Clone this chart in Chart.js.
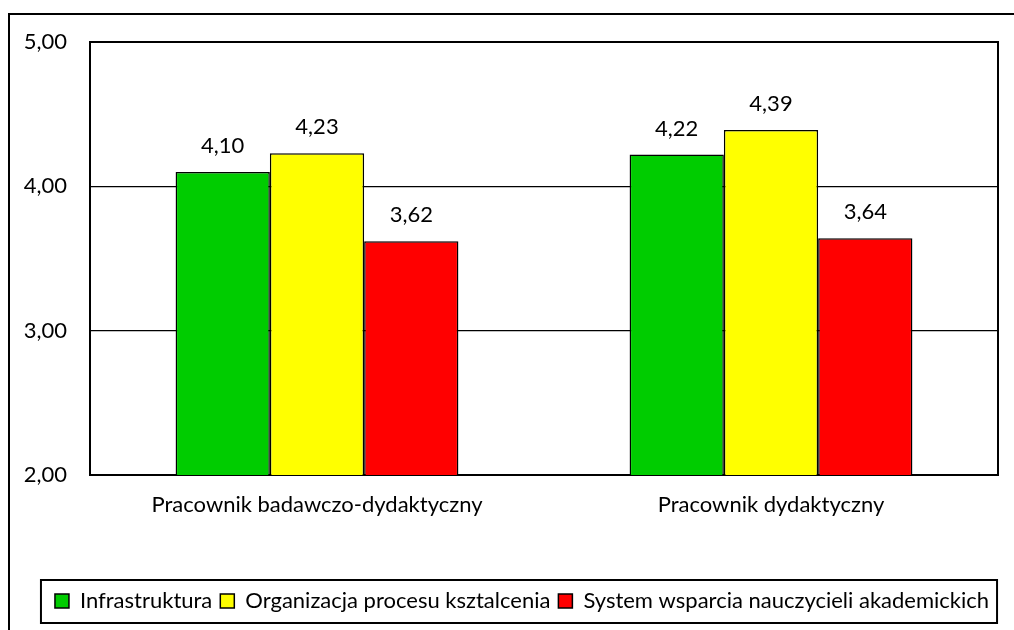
<!DOCTYPE html>
<html>
<head>
<meta charset="utf-8">
<script src="https://cdn.jsdelivr.net/npm/chart.js@4"></script>
<style>
  html, body { margin: 0; padding: 0; background: #fff; }
  #wrap { width: 1014px; height: 630px; position: relative; }
</style>
</head>
<body>
<div id="wrap"><canvas id="c" width="1014" height="630"></canvas></div>
<script>
const categories = ['Pracownik badawczo-dydaktyczny', 'Pracownik dydaktyczny'];
const seriesNames = ['Infrastruktura', 'Organizacja procesu ksztalcenia', 'System wsparcia nauczycieli akademickich'];
const infrastruktura = [4.10, 4.22];
const organizacja = [4.23, 4.39];
const systemWsparcia = [3.62, 3.64];
const seriesColors = ['#00CC00', '#FFFF00', '#FF0000'];
const yMin = 2, yMax = 5, yStep = 1;

const FONT = 'Lato';
const FSIZE = 22;
const fmt = v => v.toFixed(2).replace('.', ',');

const framePlugin = {
  id: 'frames',
  beforeDraw(chart) {
    const ctx = chart.ctx;
    ctx.save();
    ctx.fillStyle = '#fff';
    ctx.fillRect(0, 0, chart.width, chart.height);
    ctx.strokeStyle = '#000';
    ctx.lineWidth = 2;
    ctx.strokeRect(9, 14, chart.width + 20, chart.height + 20);
    ctx.restore();
  },
  afterLayout(chart) {
    const lg = chart.legend;
    if (lg) { lg.left += 23; lg.right += 23; }
  },
  beforeDatasetsDraw(chart) {
    const a = chart.chartArea, ctx = chart.ctx;
    ctx.save();
    ctx.strokeStyle = '#000';
    ctx.lineWidth = 2;
    ctx.strokeRect(a.left, a.top, a.right - a.left, a.bottom - a.top);
    ctx.restore();
  },
  afterDatasetsDraw(chart) {
    const ctx = chart.ctx;
    ctx.save();
    ctx.font = FSIZE + 'px ' + FONT;
    ctx.fillStyle = '#000';
    ctx.textAlign = 'center';
    ctx.textBaseline = 'middle';
    chart.data.datasets.forEach((ds, i) => {
      chart.getDatasetMeta(i).data.forEach((el, j) => {
        ctx.fillText(fmt(ds.data[j]), el.x, el.y - 26);
      });
    });
    ctx.restore();
  },
  afterDraw(chart) {
    const lg = chart.legend;
    if (!lg || !lg.legendHitBoxes.length) return;
    const hb = lg.legendHitBoxes;
    const l = Math.min(...hb.map(h => h.left)) - 14;
    const r = Math.max(...hb.map(h => h.left + h.width)) + 8;
    const cy = hb[0].top + hb[0].height / 2;
    const ctx = chart.ctx;
    ctx.save();
    ctx.strokeStyle = '#000';
    ctx.lineWidth = 2;
    ctx.strokeRect(l, cy - 21, r - l, 43);
    ctx.restore();
  }
};

new Chart(document.getElementById('c'), {
  type: 'bar',
  data: {
    labels: categories,
    datasets: [
      { label: seriesNames[0], data: infrastruktura, backgroundColor: seriesColors[0] },
      { label: seriesNames[1], data: organizacja, backgroundColor: seriesColors[1] },
      { label: seriesNames[2], data: systemWsparcia, backgroundColor: seriesColors[2] }
    ].map(d => Object.assign(d, { borderColor: '#000', borderWidth: 1.5, borderSkipped: false, categoryPercentage: 0.623, barPercentage: 1 }))
  },
  options: {
    responsive: false,
    animation: false,
    devicePixelRatio: 1,
    layout: { padding: { top: 42, left: 0, right: 16, bottom: 8 } },
    plugins: {
      tooltip: { enabled: false },
      legend: {
        position: 'bottom',
        labels: {
          boxWidth: 14, boxHeight: 14, padding: 8,
          color: '#000',
          font: { family: FONT, size: FSIZE }
        }
      }
    },
    scales: {
      x: {
        grid: { display: false, drawTicks: false },
        border: { display: false },
        ticks: { color: '#000', font: { family: FONT, size: FSIZE }, padding: 17, maxRotation: 0 },
        afterFit(s) { s.height = 107; }
      },
      y: {
        min: yMin, max: yMax,
        grid: { color: '#000', lineWidth: 1.3, drawTicks: false },
        border: { display: false },
        ticks: { stepSize: yStep, color: '#000', font: { family: FONT, size: FSIZE }, padding: 23, callback: v => fmt(v) },
        afterFit(s) { s.width = 90; }
      }
    }
  },
  plugins: [framePlugin]
});
</script>
</body>
</html>
